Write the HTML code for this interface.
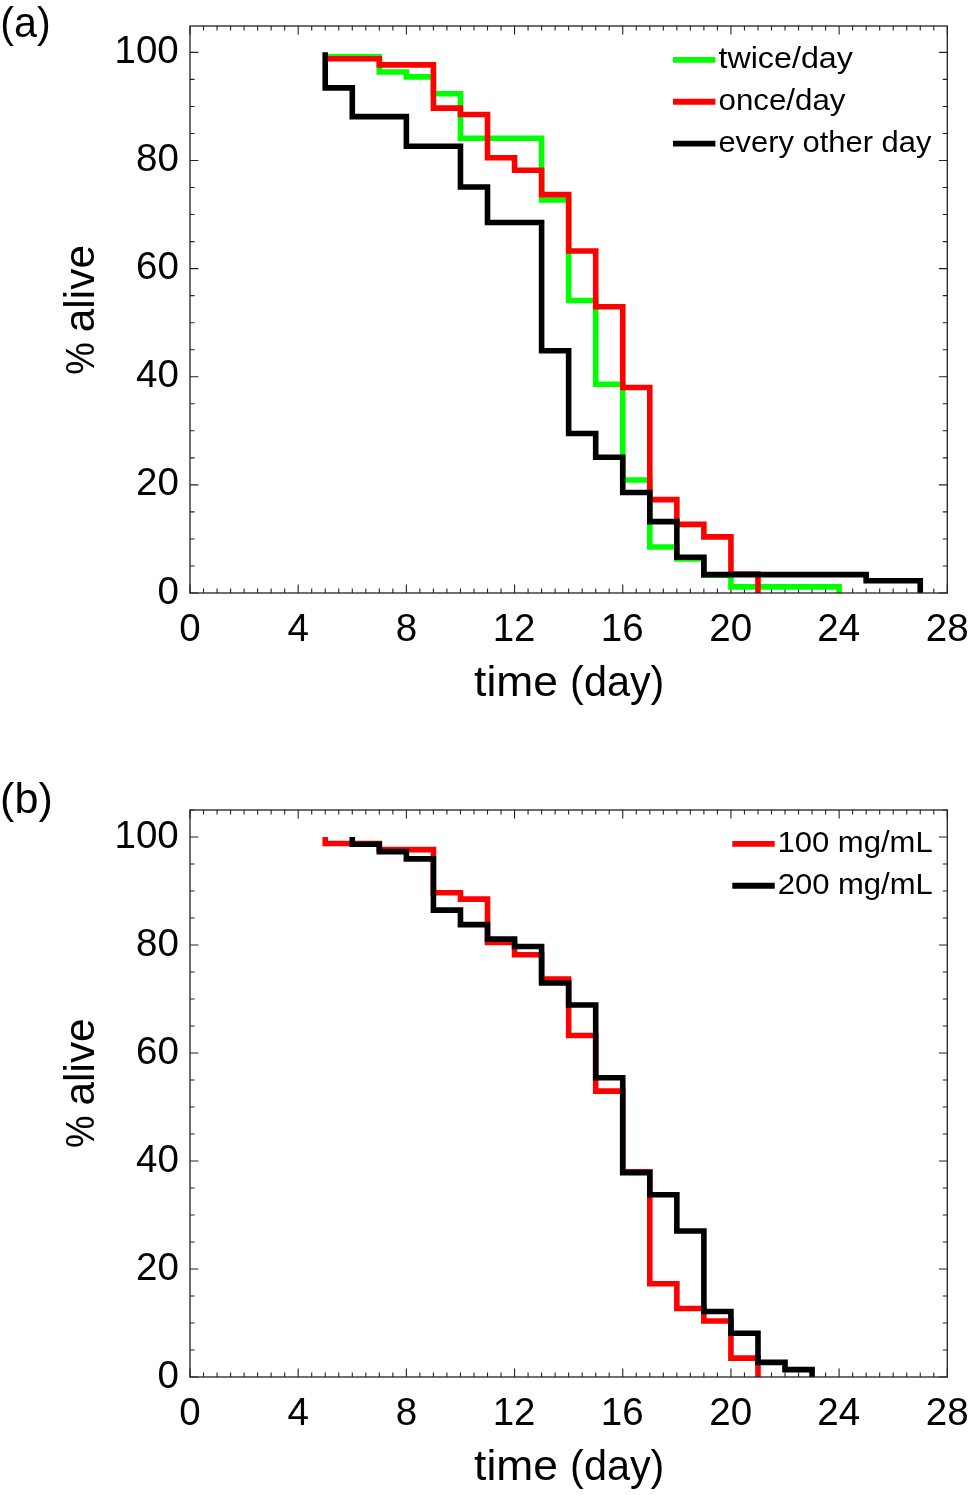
<!DOCTYPE html>
<html><head><meta charset="utf-8"><title>Survival curves</title>
<style>
html,body{margin:0;padding:0;background:#fff;}
body{width:969px;height:1495px;overflow:hidden;font-family:"Liberation Sans",sans-serif;}
svg{display:block;position:absolute;left:0;top:0;}
text{font-family:"Liberation Sans",sans-serif;fill:#000;}
</style></head><body>
<svg width="969" height="1495" viewBox="0 0 969 1495">
<rect x="0" y="0" width="969" height="1495" fill="#ffffff"/>
<g id="panel-a">
<path d="M190.00 593.00 v-8.40 M190.00 26.00 v8.40 M203.52 593.00 v-4.50 M203.52 26.00 v4.50 M217.05 593.00 v-4.50 M217.05 26.00 v4.50 M230.57 593.00 v-4.50 M230.57 26.00 v4.50 M244.09 593.00 v-4.50 M244.09 26.00 v4.50 M257.62 593.00 v-4.50 M257.62 26.00 v4.50 M271.14 593.00 v-4.50 M271.14 26.00 v4.50 M284.66 593.00 v-4.50 M284.66 26.00 v4.50 M298.19 593.00 v-8.40 M298.19 26.00 v8.40 M311.71 593.00 v-4.50 M311.71 26.00 v4.50 M325.23 593.00 v-4.50 M325.23 26.00 v4.50 M338.76 593.00 v-4.50 M338.76 26.00 v4.50 M352.28 593.00 v-4.50 M352.28 26.00 v4.50 M365.80 593.00 v-4.50 M365.80 26.00 v4.50 M379.32 593.00 v-4.50 M379.32 26.00 v4.50 M392.85 593.00 v-4.50 M392.85 26.00 v4.50 M406.37 593.00 v-8.40 M406.37 26.00 v8.40 M419.89 593.00 v-4.50 M419.89 26.00 v4.50 M433.42 593.00 v-4.50 M433.42 26.00 v4.50 M446.94 593.00 v-4.50 M446.94 26.00 v4.50 M460.46 593.00 v-4.50 M460.46 26.00 v4.50 M473.99 593.00 v-4.50 M473.99 26.00 v4.50 M487.51 593.00 v-4.50 M487.51 26.00 v4.50 M501.03 593.00 v-4.50 M501.03 26.00 v4.50 M514.56 593.00 v-8.40 M514.56 26.00 v8.40 M528.08 593.00 v-4.50 M528.08 26.00 v4.50 M541.60 593.00 v-4.50 M541.60 26.00 v4.50 M555.13 593.00 v-4.50 M555.13 26.00 v4.50 M568.65 593.00 v-4.50 M568.65 26.00 v4.50 M582.17 593.00 v-4.50 M582.17 26.00 v4.50 M595.70 593.00 v-4.50 M595.70 26.00 v4.50 M609.22 593.00 v-4.50 M609.22 26.00 v4.50 M622.74 593.00 v-8.40 M622.74 26.00 v8.40 M636.27 593.00 v-4.50 M636.27 26.00 v4.50 M649.79 593.00 v-4.50 M649.79 26.00 v4.50 M663.31 593.00 v-4.50 M663.31 26.00 v4.50 M676.84 593.00 v-4.50 M676.84 26.00 v4.50 M690.36 593.00 v-4.50 M690.36 26.00 v4.50 M703.88 593.00 v-4.50 M703.88 26.00 v4.50 M717.41 593.00 v-4.50 M717.41 26.00 v4.50 M730.93 593.00 v-8.40 M730.93 26.00 v8.40 M744.45 593.00 v-4.50 M744.45 26.00 v4.50 M757.98 593.00 v-4.50 M757.98 26.00 v4.50 M771.50 593.00 v-4.50 M771.50 26.00 v4.50 M785.02 593.00 v-4.50 M785.02 26.00 v4.50 M798.54 593.00 v-4.50 M798.54 26.00 v4.50 M812.07 593.00 v-4.50 M812.07 26.00 v4.50 M825.59 593.00 v-4.50 M825.59 26.00 v4.50 M839.11 593.00 v-8.40 M839.11 26.00 v8.40 M852.64 593.00 v-4.50 M852.64 26.00 v4.50 M866.16 593.00 v-4.50 M866.16 26.00 v4.50 M879.68 593.00 v-4.50 M879.68 26.00 v4.50 M893.21 593.00 v-4.50 M893.21 26.00 v4.50 M906.73 593.00 v-4.50 M906.73 26.00 v4.50 M920.25 593.00 v-4.50 M920.25 26.00 v4.50 M933.78 593.00 v-4.50 M933.78 26.00 v4.50 M947.30 593.00 v-8.40 M947.30 26.00 v8.40 M190.00 593.00 h8.40 M947.30 593.00 h-8.40 M190.00 565.97 h4.50 M947.30 565.97 h-4.50 M190.00 538.94 h4.50 M947.30 538.94 h-4.50 M190.00 511.91 h4.50 M947.30 511.91 h-4.50 M190.00 484.87 h8.40 M947.30 484.87 h-8.40 M190.00 457.84 h4.50 M947.30 457.84 h-4.50 M190.00 430.81 h4.50 M947.30 430.81 h-4.50 M190.00 403.78 h4.50 M947.30 403.78 h-4.50 M190.00 376.75 h8.40 M947.30 376.75 h-8.40 M190.00 349.72 h4.50 M947.30 349.72 h-4.50 M190.00 322.69 h4.50 M947.30 322.69 h-4.50 M190.00 295.65 h4.50 M947.30 295.65 h-4.50 M190.00 268.62 h8.40 M947.30 268.62 h-8.40 M190.00 241.59 h4.50 M947.30 241.59 h-4.50 M190.00 214.56 h4.50 M947.30 214.56 h-4.50 M190.00 187.53 h4.50 M947.30 187.53 h-4.50 M190.00 160.50 h8.40 M947.30 160.50 h-8.40 M190.00 133.46 h4.50 M947.30 133.46 h-4.50 M190.00 106.43 h4.50 M947.30 106.43 h-4.50 M190.00 79.40 h4.50 M947.30 79.40 h-4.50 M190.00 52.37 h8.40 M947.30 52.37 h-8.40" fill="none" stroke="#222222" stroke-width="1.1"/>
<path d="M325.23 56.70 L379.32 56.70 L379.32 71.94 L406.37 71.94 L406.37 76.91 L433.42 76.91 L433.42 93.73 L460.46 93.73 L460.46 138.22 L541.60 138.22 L541.60 199.96 L568.65 199.96 L568.65 300.52 L595.70 300.52 L595.70 384.32 L622.74 384.32 L622.74 480.01 L649.79 480.01 L649.79 547.05 L676.84 547.05 L676.84 558.94 L703.88 558.94 L703.88 575.16 L730.93 575.16 L730.93 586.89 L839.11 586.89 L839.11 593.00" fill="none" stroke="#00ff00" stroke-width="5.6" stroke-linejoin="miter" stroke-linecap="butt"/>
<path d="M325.23 58.75 L379.32 58.75 L379.32 64.91 L433.42 64.91 L433.42 108.16 L460.46 108.16 L460.46 114.49 L487.51 114.49 L487.51 157.79 L514.56 157.79 L514.56 170.23 L541.60 170.23 L541.60 194.66 L568.65 194.66 L568.65 251.05 L595.70 251.05 L595.70 306.74 L622.74 306.74 L622.74 387.45 L649.79 387.45 L649.79 499.58 L676.84 499.58 L676.84 524.34 L703.88 524.34 L703.88 536.88 L730.93 536.88 L730.93 574.08 L757.98 574.08 L757.98 593.00" fill="none" stroke="#ff0000" stroke-width="5.6" stroke-linejoin="miter" stroke-linecap="butt"/>
<path d="M325.23 52.37 L325.23 52.37 L325.23 87.89 L352.28 87.89 L352.28 116.65 L406.37 116.65 L406.37 146.28 L460.46 146.28 L460.46 186.99 L487.51 186.99 L487.51 222.51 L541.60 222.51 L541.60 350.80 L568.65 350.80 L568.65 433.51 L595.70 433.51 L595.70 457.30 L622.74 457.30 L622.74 492.44 L649.79 492.44 L649.79 521.64 L676.84 521.64 L676.84 557.32 L703.88 557.32 L703.88 574.62 L866.16 574.62 L866.16 580.73 L920.25 580.73 L920.25 593.00" fill="none" stroke="#000000" stroke-width="5.6" stroke-linejoin="miter" stroke-linecap="butt"/>
<rect x="190.00" y="26.00" width="757.30" height="567.00" fill="none" stroke="#222222" stroke-width="1.3"/>
<path d="M673.00 59.85 h42.4" stroke="#00ff00" stroke-width="5.8"/>
<path d="M673.00 101.75 h42.4" stroke="#ff0000" stroke-width="5.8"/>
<path d="M673.00 143.65 h42.4" stroke="#000000" stroke-width="5.8"/>
<g class="labels" opacity="0.99999">
<text transform="translate(179.27 640.80) scale(1.0000 1)" font-size="38.50">0</text>
<text transform="translate(287.60 640.80) scale(1.0000 1)" font-size="38.50">4</text>
<text transform="translate(395.69 640.80) scale(1.0000 1)" font-size="38.50">8</text>
<text transform="translate(492.71 640.80) scale(1.0000 1)" font-size="38.50">12</text>
<text transform="translate(600.75 640.80) scale(1.0000 1)" font-size="38.50">16</text>
<text transform="translate(709.32 640.80) scale(1.0000 1)" font-size="38.50">20</text>
<text transform="translate(817.31 640.80) scale(1.0000 1)" font-size="38.50">24</text>
<text transform="translate(925.79 640.80) scale(1.0000 1)" font-size="38.50">28</text>
<text transform="translate(157.38 603.50) scale(1.0000 1)" font-size="38.50">0</text>
<text transform="translate(136.01 495.37) scale(1.0000 1)" font-size="38.50">20</text>
<text transform="translate(136.01 387.25) scale(1.0000 1)" font-size="38.50">40</text>
<text transform="translate(136.01 279.12) scale(1.0000 1)" font-size="38.50">60</text>
<text transform="translate(136.01 171.00) scale(1.0000 1)" font-size="38.50">80</text>
<text transform="translate(114.55 62.87) scale(1.0000 1)" font-size="38.50">100</text>
<text transform="translate(474.08 696.30) scale(1.0325 1)" font-size="43.00">time</text>
<text transform="translate(570.11 696.30) scale(0.9626 1)" font-size="43.00">(day)</text>
<text transform="translate(93.90 374.68) rotate(-90) scale(0.9031 1)" font-size="40.50">%</text>
<text transform="translate(93.90 332.20) rotate(-90) scale(0.9857 1)" font-size="43.00">alive</text>
<text transform="translate(0.22 37.40) scale(0.9599 1)" font-size="43.00">(a)</text>
<text transform="translate(718.42 67.80) scale(1.0656 1)" font-size="30.30">twice/day</text>
<text transform="translate(718.47 109.70) scale(1.0339 1)" font-size="30.30">once/day</text>
<text transform="translate(718.39 151.60) scale(1.0199 1)" font-size="30.30">every other day</text>
</g>
</g>
<g id="panel-b">
<path d="M190.00 1377.00 v-8.40 M190.00 810.00 v8.40 M203.52 1377.00 v-4.50 M203.52 810.00 v4.50 M217.05 1377.00 v-4.50 M217.05 810.00 v4.50 M230.57 1377.00 v-4.50 M230.57 810.00 v4.50 M244.09 1377.00 v-4.50 M244.09 810.00 v4.50 M257.62 1377.00 v-4.50 M257.62 810.00 v4.50 M271.14 1377.00 v-4.50 M271.14 810.00 v4.50 M284.66 1377.00 v-4.50 M284.66 810.00 v4.50 M298.19 1377.00 v-8.40 M298.19 810.00 v8.40 M311.71 1377.00 v-4.50 M311.71 810.00 v4.50 M325.23 1377.00 v-4.50 M325.23 810.00 v4.50 M338.76 1377.00 v-4.50 M338.76 810.00 v4.50 M352.28 1377.00 v-4.50 M352.28 810.00 v4.50 M365.80 1377.00 v-4.50 M365.80 810.00 v4.50 M379.32 1377.00 v-4.50 M379.32 810.00 v4.50 M392.85 1377.00 v-4.50 M392.85 810.00 v4.50 M406.37 1377.00 v-8.40 M406.37 810.00 v8.40 M419.89 1377.00 v-4.50 M419.89 810.00 v4.50 M433.42 1377.00 v-4.50 M433.42 810.00 v4.50 M446.94 1377.00 v-4.50 M446.94 810.00 v4.50 M460.46 1377.00 v-4.50 M460.46 810.00 v4.50 M473.99 1377.00 v-4.50 M473.99 810.00 v4.50 M487.51 1377.00 v-4.50 M487.51 810.00 v4.50 M501.03 1377.00 v-4.50 M501.03 810.00 v4.50 M514.56 1377.00 v-8.40 M514.56 810.00 v8.40 M528.08 1377.00 v-4.50 M528.08 810.00 v4.50 M541.60 1377.00 v-4.50 M541.60 810.00 v4.50 M555.13 1377.00 v-4.50 M555.13 810.00 v4.50 M568.65 1377.00 v-4.50 M568.65 810.00 v4.50 M582.17 1377.00 v-4.50 M582.17 810.00 v4.50 M595.70 1377.00 v-4.50 M595.70 810.00 v4.50 M609.22 1377.00 v-4.50 M609.22 810.00 v4.50 M622.74 1377.00 v-8.40 M622.74 810.00 v8.40 M636.27 1377.00 v-4.50 M636.27 810.00 v4.50 M649.79 1377.00 v-4.50 M649.79 810.00 v4.50 M663.31 1377.00 v-4.50 M663.31 810.00 v4.50 M676.84 1377.00 v-4.50 M676.84 810.00 v4.50 M690.36 1377.00 v-4.50 M690.36 810.00 v4.50 M703.88 1377.00 v-4.50 M703.88 810.00 v4.50 M717.41 1377.00 v-4.50 M717.41 810.00 v4.50 M730.93 1377.00 v-8.40 M730.93 810.00 v8.40 M744.45 1377.00 v-4.50 M744.45 810.00 v4.50 M757.98 1377.00 v-4.50 M757.98 810.00 v4.50 M771.50 1377.00 v-4.50 M771.50 810.00 v4.50 M785.02 1377.00 v-4.50 M785.02 810.00 v4.50 M798.54 1377.00 v-4.50 M798.54 810.00 v4.50 M812.07 1377.00 v-4.50 M812.07 810.00 v4.50 M825.59 1377.00 v-4.50 M825.59 810.00 v4.50 M839.11 1377.00 v-8.40 M839.11 810.00 v8.40 M852.64 1377.00 v-4.50 M852.64 810.00 v4.50 M866.16 1377.00 v-4.50 M866.16 810.00 v4.50 M879.68 1377.00 v-4.50 M879.68 810.00 v4.50 M893.21 1377.00 v-4.50 M893.21 810.00 v4.50 M906.73 1377.00 v-4.50 M906.73 810.00 v4.50 M920.25 1377.00 v-4.50 M920.25 810.00 v4.50 M933.78 1377.00 v-4.50 M933.78 810.00 v4.50 M947.30 1377.00 v-8.40 M947.30 810.00 v8.40 M190.00 1377.00 h8.40 M947.30 1377.00 h-8.40 M190.00 1350.00 h4.50 M947.30 1350.00 h-4.50 M190.00 1323.01 h4.50 M947.30 1323.01 h-4.50 M190.00 1296.01 h4.50 M947.30 1296.01 h-4.50 M190.00 1269.01 h8.40 M947.30 1269.01 h-8.40 M190.00 1242.01 h4.50 M947.30 1242.01 h-4.50 M190.00 1215.02 h4.50 M947.30 1215.02 h-4.50 M190.00 1188.02 h4.50 M947.30 1188.02 h-4.50 M190.00 1161.02 h8.40 M947.30 1161.02 h-8.40 M190.00 1134.03 h4.50 M947.30 1134.03 h-4.50 M190.00 1107.03 h4.50 M947.30 1107.03 h-4.50 M190.00 1080.03 h4.50 M947.30 1080.03 h-4.50 M190.00 1053.04 h8.40 M947.30 1053.04 h-8.40 M190.00 1026.04 h4.50 M947.30 1026.04 h-4.50 M190.00 999.04 h4.50 M947.30 999.04 h-4.50 M190.00 972.04 h4.50 M947.30 972.04 h-4.50 M190.00 945.05 h8.40 M947.30 945.05 h-8.40 M190.00 918.05 h4.50 M947.30 918.05 h-4.50 M190.00 891.05 h4.50 M947.30 891.05 h-4.50 M190.00 864.06 h4.50 M947.30 864.06 h-4.50 M190.00 837.06 h8.40 M947.30 837.06 h-8.40 M190.00 810.06 h4.50 M947.30 810.06 h-4.50" fill="none" stroke="#222222" stroke-width="1.1"/>
<path d="M325.23 837.06 L325.23 843.43 L379.32 843.43 L379.32 849.59 L433.42 849.59 L433.42 892.78 L460.46 892.78 L460.46 899.10 L487.51 899.10 L487.51 942.35 L514.56 942.35 L514.56 954.77 L541.60 954.77 L541.60 979.17 L568.65 979.17 L568.65 1035.49 L595.70 1035.49 L595.70 1091.10 L622.74 1091.10 L622.74 1171.71 L649.79 1171.71 L649.79 1283.70 L676.84 1283.70 L676.84 1308.43 L703.88 1308.43 L703.88 1320.95 L730.93 1320.95 L730.93 1358.10 L757.98 1358.10 L757.98 1377.00" fill="none" stroke="#ff0000" stroke-width="5.6" stroke-linejoin="miter" stroke-linecap="butt"/>
<path d="M352.28 837.06 L352.28 844.24 L379.32 844.24 L379.32 851.64 L406.37 851.64 L406.37 858.87 L433.42 858.87 L433.42 910.17 L460.46 910.17 L460.46 924.58 L487.51 924.58 L487.51 939.11 L514.56 939.11 L514.56 946.56 L541.60 946.56 L541.60 983.01 L568.65 983.01 L568.65 1004.93 L595.70 1004.93 L595.70 1077.82 L622.74 1077.82 L622.74 1172.63 L649.79 1172.63 L649.79 1194.82 L676.84 1194.82 L676.84 1231.05 L703.88 1231.05 L703.88 1311.45 L730.93 1311.45 L730.93 1333.32 L757.98 1333.32 L757.98 1362.42 L785.02 1362.42 L785.02 1369.60 L812.07 1369.60 L812.07 1377.00" fill="none" stroke="#000000" stroke-width="5.6" stroke-linejoin="miter" stroke-linecap="butt"/>
<rect x="190.00" y="810.00" width="757.30" height="567.00" fill="none" stroke="#222222" stroke-width="1.3"/>
<path d="M732.30 843.85 h42.4" stroke="#ff0000" stroke-width="5.8"/>
<path d="M732.30 885.75 h42.4" stroke="#000000" stroke-width="5.8"/>
<g class="labels" opacity="0.99999">
<text transform="translate(179.27 1424.80) scale(1.0000 1)" font-size="38.50">0</text>
<text transform="translate(287.60 1424.80) scale(1.0000 1)" font-size="38.50">4</text>
<text transform="translate(395.69 1424.80) scale(1.0000 1)" font-size="38.50">8</text>
<text transform="translate(492.71 1424.80) scale(1.0000 1)" font-size="38.50">12</text>
<text transform="translate(600.75 1424.80) scale(1.0000 1)" font-size="38.50">16</text>
<text transform="translate(709.32 1424.80) scale(1.0000 1)" font-size="38.50">20</text>
<text transform="translate(817.31 1424.80) scale(1.0000 1)" font-size="38.50">24</text>
<text transform="translate(925.79 1424.80) scale(1.0000 1)" font-size="38.50">28</text>
<text transform="translate(157.38 1387.50) scale(1.0000 1)" font-size="38.50">0</text>
<text transform="translate(136.01 1279.51) scale(1.0000 1)" font-size="38.50">20</text>
<text transform="translate(136.01 1171.52) scale(1.0000 1)" font-size="38.50">40</text>
<text transform="translate(136.01 1063.54) scale(1.0000 1)" font-size="38.50">60</text>
<text transform="translate(136.01 955.55) scale(1.0000 1)" font-size="38.50">80</text>
<text transform="translate(114.55 847.56) scale(1.0000 1)" font-size="38.50">100</text>
<text transform="translate(474.08 1480.30) scale(1.0325 1)" font-size="43.00">time</text>
<text transform="translate(570.11 1480.30) scale(0.9626 1)" font-size="43.00">(day)</text>
<text transform="translate(93.90 1147.98) rotate(-90) scale(0.9031 1)" font-size="40.50">%</text>
<text transform="translate(93.90 1105.50) rotate(-90) scale(0.9857 1)" font-size="43.00">alive</text>
<text transform="translate(0.11 813.20) scale(1.0023 1)" font-size="43.00">(b)</text>
<text transform="translate(777.47 851.80) scale(1.0248 1)" font-size="30.30">100 mg/mL</text>
<text transform="translate(777.75 893.70) scale(1.0230 1)" font-size="30.30">200 mg/mL</text>
</g>
</g>
</svg>
</body></html>
